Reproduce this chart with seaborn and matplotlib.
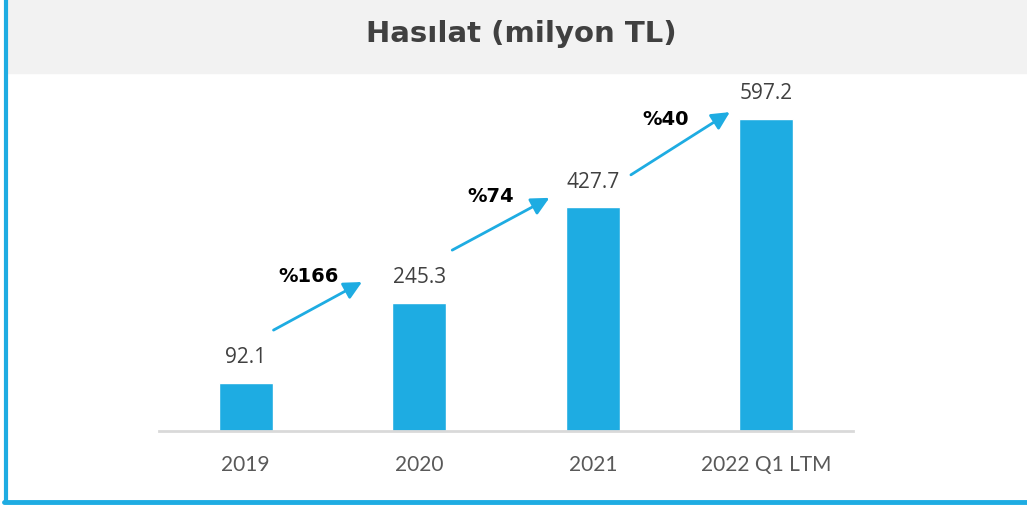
import matplotlib
matplotlib.use("Agg")
import matplotlib.pyplot as plt
from matplotlib.patches import Rectangle
import seaborn as sns
import pandas as pd

# data
categories = ["2019", "2020", "2021", "2022 Q1 LTM"]
revenue = [92.1, 245.3, 427.7, 597.2]
growth_labels = ["%166", "%74", "%40"]

# arrow start/end (x index, y value) and growth label anchor
arrows = [((0.16, 193), (0.67, 285)),
          ((1.19, 346), (1.75, 446)),
          ((2.22, 490), (2.79, 610))]
growth_pos = [(0.36, 295), (1.41, 448), (2.42, 596)]

BLUE = "#1EACE2"
DARK = "#404040"

sns.set_theme(style="white")
plt.rcParams["font.family"] = ["Open Sans", "DejaVu Sans"]

df = pd.DataFrame({"Year": categories, "Revenue": revenue})

W, H = 1027, 505
fig = plt.figure(figsize=(W / 100, H / 100), dpi=100)
fig.patch.set_facecolor("white")

# header band + frame
fig.patches.append(Rectangle((7 / W, 1 - 73 / H), 1 - 7 / W, 73 / H,
                             transform=fig.transFigure, color="#F2F2F2", zorder=0))
fig.add_artist(plt.Line2D([5.5 / W, 5.5 / W], [1, 1 - 502 / H],
                          transform=fig.transFigure, color=BLUE, lw=3))
fig.add_artist(plt.Line2D([4 / W, 1], [1 - 501.5 / H, 1 - 501.5 / H],
                          transform=fig.transFigure, color=BLUE, lw=3.5))
fig.text(521 / W, 1 - 34 / H, "Hasılat (milyon TL)", ha="center", va="center",
         fontsize=21, fontweight="bold", color=DARK, family=["DejaVu Sans"])

ax = fig.add_axes([159 / W, 1 - 431 / H, (853 - 159) / W, (431 - 75) / H])
sns.barplot(data=df, x="Year", y="Revenue", color=BLUE, width=0.31,
            saturation=1, ax=ax)
ax.set_xlim(-0.5, 3.5)
ax.set_ylim(0, 681)
ax.set_facecolor("none")

for i, v in enumerate(revenue):
    ax.text(i, v + 28, f"{v:.1f}", ha="center", va="bottom", fontsize=15, color=DARK)

for (s, e), lbl, (lx, ly) in zip(arrows, growth_labels, growth_pos):
    ax.annotate("", xy=e, xytext=s,
                arrowprops=dict(arrowstyle="-|>,head_length=0.9,head_width=0.45",
                                color=BLUE, lw=2, shrinkA=0, shrinkB=0))
    ax.text(lx, ly, lbl, ha="center", va="center", fontsize=14,
            fontweight="bold", color="black", family=["DejaVu Sans"])

sns.despine(ax=ax, left=True)
ax.spines["bottom"].set_color("#D9D9D9")
ax.spines["bottom"].set_linewidth(2)
ax.set_yticks([])
ax.set_xlabel("")
ax.set_ylabel("")
ax.tick_params(axis="x", length=0, pad=17, labelsize=15, labelcolor="#595959")
for t in ax.get_xticklabels():
    t.set_family(["Lato", "DejaVu Sans"])

fig.savefig("out.png", dpi=100)
